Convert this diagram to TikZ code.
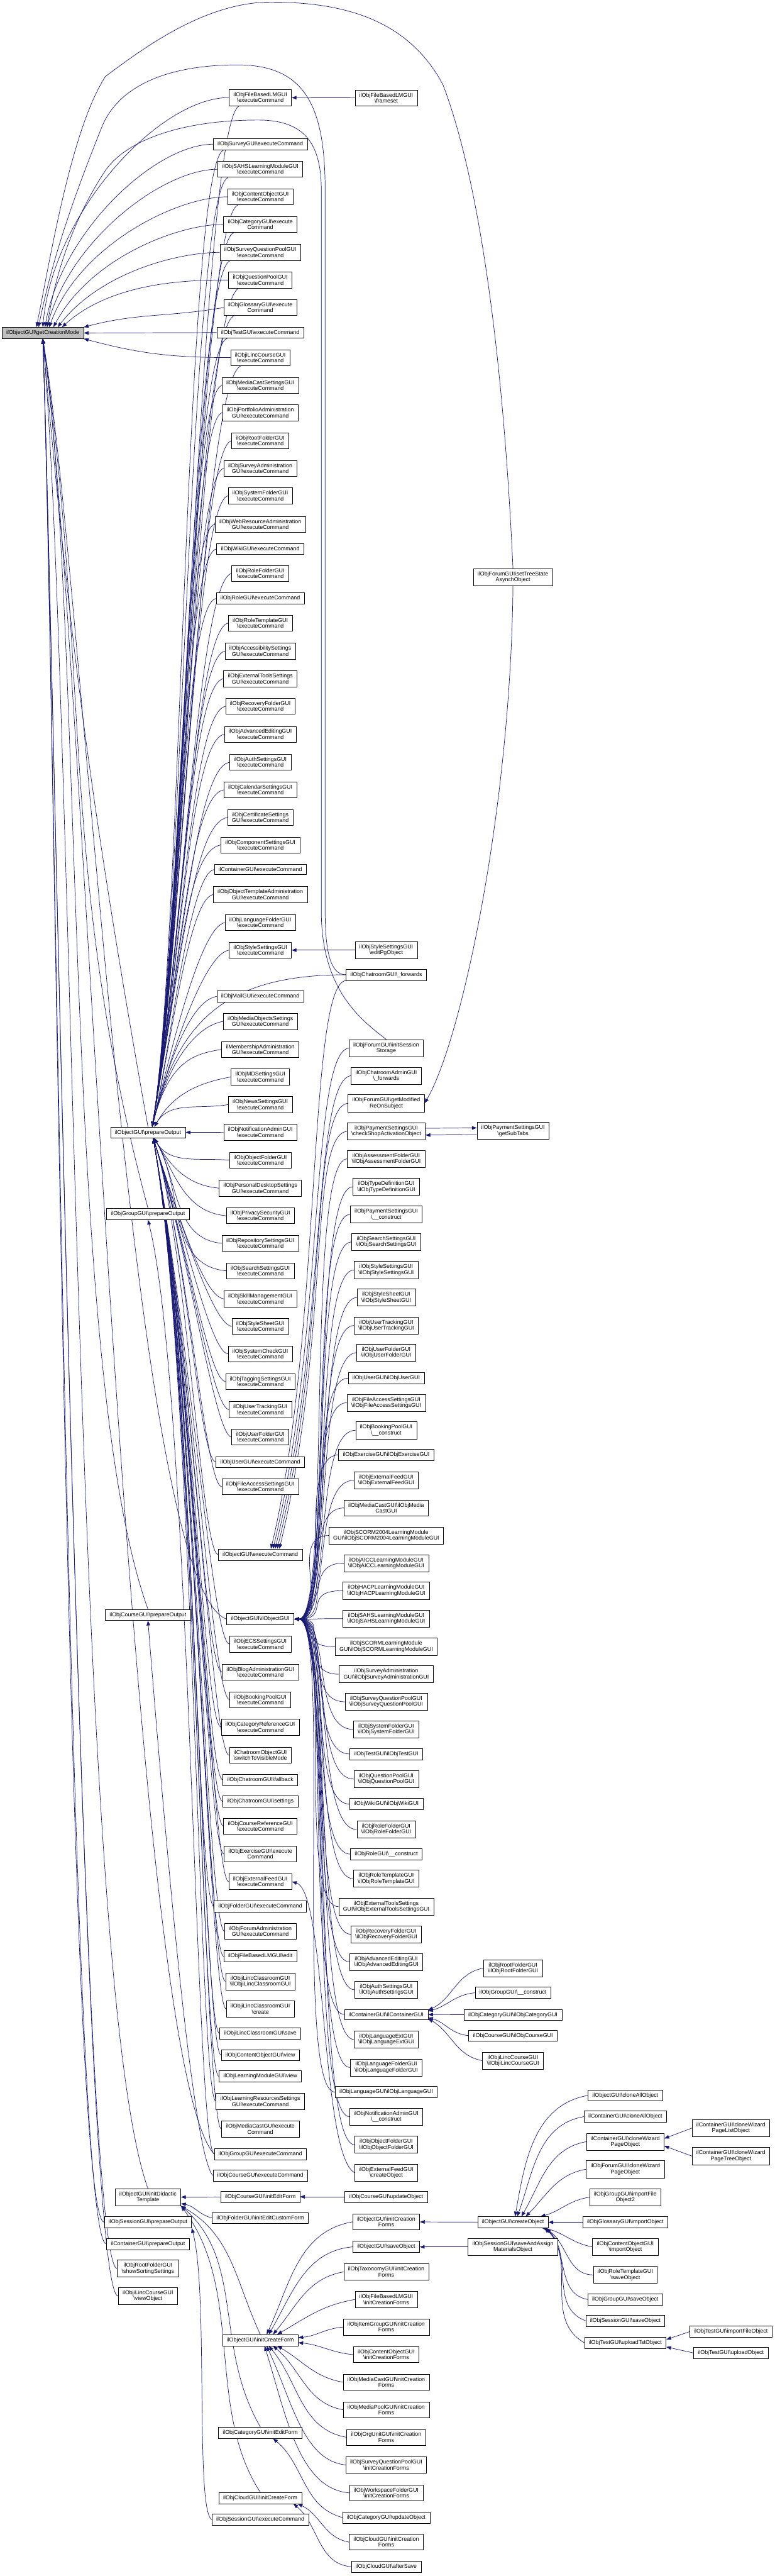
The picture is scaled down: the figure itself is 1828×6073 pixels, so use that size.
\documentclass[tikz,border=0pt]{standalone}
\usepackage{fontspec}
\setmainfont{Liberation Sans}
\usetikzlibrary{arrows.meta}
\definecolor{edgeblue}{HTML}{191970}
\pgfdeclarelayer{paper}
\pgfdeclarelayer{background}
\pgfsetlayers{paper,background,main}
\newcommand{\bs}{\textbackslash}

\begin{document}
\begin{tikzpicture}[
  x=0.02cm, y=-0.02cm,
  font=\fontsize{7.5}{7.9}\selectfont,
  fn/.style={draw=black, line width=0.5pt, fill=white, align=center, inner xsep=5.8pt, inner ysep=4pt},
  rootfn/.style={fn, fill=black!25},
  call/.style={draw=edgeblue, line width=0.6pt, -{Triangle[length=6.5pt,width=4.8pt]}}
]
\useasboundingbox (0,0) rectangle (1828,6073);
\begin{pgfonlayer}{paper}
  \fill[white] (0,0) rectangle (1828,6073);
\end{pgfonlayer}

\node[rootfn] (root) at (101,785) {ilObjectGUI\bs getCreationMode};

% direct callers of the root
\node[fn] (prepout) at (349,2670) {ilObjectGUI\bs prepareOutput};
\node[fn] (grpprep) at (349,2862) {ilObjGroupGUI\bs prepareOutput};
\node[fn] (crsprep) at (349,3807) {ilObjCourseGUI\bs prepareOutput};
\node[fn] (didactic) at (349,5180) {ilObjectGUI\bs initDidactic\\Template};
\node[fn] (sessprep) at (349,5239) {ilObjSessionGUI\bs prepareOutput};
\node[fn] (contprep) at (349,5290) {ilContainerGUI\bs prepareOutput};
\node[fn] (sortset) at (349,5348) {ilObjRootFolderGUI\\\bs showSortingSettings};
\node[fn] (lincview) at (349,5413) {ilObjiLincCourseGUI\\\bs viewObject};

% second column
\foreach \nm/\yy/\lbl in {
  fblmexec/230/{ilObjFileBasedLMGUI\\\bs executeCommand},
  surveyexec/340/{ilObjSurveyGUI\bs executeCommand},
  sahsexec/399/{ilObjSAHSLearningModuleGUI\\\bs executeCommand},
  contobjexec/464/{ilObjContentObjectGUI\\\bs executeCommand},
  catexec/529/{ilObjCategoryGUI\bs execute\\Command},
  sqpoolexec/595/{ilObjSurveyQuestionPoolGUI\\\bs executeCommand},
  qpoolexec/660/{ilObjQuestionPoolGUI\\\bs executeCommand},
  glossexec/725/{ilObjGlossaryGUI\bs execute\\Command},
  testexec/784/{ilObjTestGUI\bs executeCommand},
  lincexec/843/{ilObjiLincCourseGUI\\\bs executeCommand},
  mcastsetexec/909/{ilObjMediaCastSettingsGUI\\\bs executeCommand},
  portfexec/973/{ilObjPortfolioAdministration\\GUI\bs executeCommand},
  rootfexec/1039/{ilObjRootFolderGUI\\\bs executeCommand},
  survadmexec/1104/{ilObjSurveyAdministration\\GUI\bs executeCommand},
  sysfexec/1169/{ilObjSystemFolderGUI\\\bs executeCommand},
  webresexec/1236/{ilObjWebResourceAdministration\\GUI\bs executeCommand},
  wikiexec/1294/{ilObjWikiGUI\bs executeCommand},
  rolefexec/1352/{ilObjRoleFolderGUI\\\bs executeCommand},
  roleexec/1411/{ilObjRoleGUI\bs executeCommand},
  roletplexec/1469/{ilObjRoleTemplateGUI\\\bs executeCommand},
  accessexec/1535/{ilObjAccessibilitySettings\\GUI\bs executeCommand},
  exttoolsexec/1600/{ilObjExternalToolsSettings\\GUI\bs executeCommand},
  recovexec/1665/{ilObjRecoveryFolderGUI\\\bs executeCommand},
  adveditexec/1731/{ilObjAdvancedEditingGUI\\\bs executeCommand},
  authexec/1797/{ilObjAuthSettingsGUI\\\bs executeCommand},
  calexec/1862/{ilObjCalendarSettingsGUI\\\bs executeCommand},
  certexec/1927/{ilObjCertificateSettings\\GUI\bs executeCommand},
  compexec/1992/{ilObjComponentSettingsGUI\\\bs executeCommand},
  contexec/2050/{ilContainerGUI\bs executeCommand},
  objtplexec/2109/{ilObjObjectTemplateAdministration\\GUI\bs executeCommand},
  langfexec/2175/{ilObjLanguageFolderGUI\\\bs executeCommand},
  styleexec/2240/{ilObjStyleSettingsGUI\\\bs executeCommand},
  mailexec/2349/{ilObjMailGUI\bs executeCommand},
  mobsexec/2408/{ilObjMediaObjectsSettings\\GUI\bs executeCommand},
  membexec/2474/{ilMembershipAdministration\\GUI\bs executeCommand},
  mdexec/2539/{ilObjMDSettingsGUI\\\bs executeCommand},
  newsexec/2604/{ilObjNewsSettingsGUI\\\bs executeCommand},
  notifexec/2669/{ilObjNotificationAdminGUI\\\bs executeCommand},
  objfexec/2735/{ilObjObjectFolderGUI\\\bs executeCommand},
  pdexec/2801/{ilObjPersonalDesktopSettings\\GUI\bs executeCommand},
  privexec/2866/{ilObjPrivacySecurityGUI\\\bs executeCommand},
  repoexec/2931/{ilObjRepositorySettingsGUI\\\bs executeCommand},
  searchexec/2996/{ilObjSearchSettingsGUI\\\bs executeCommand},
  skillexec/3062/{ilObjSkillManagementGUI\\\bs executeCommand},
  sheetexec/3127/{ilObjStyleSheetGUI\\\bs executeCommand},
  syscheckexec/3192/{ilObjSystemCheckGUI\\\bs executeCommand},
  tagexec/3257/{ilObjTaggingSettingsGUI\\\bs executeCommand},
  trackexec/3323/{ilObjUserTrackingGUI\\\bs executeCommand},
  userfexec/3388/{ilObjUserFolderGUI\\\bs executeCommand},
  userexec/3447/{ilObjUserGUI\bs executeCommand},
  faccexec/3505/{ilObjFileAccessSettingsGUI\\\bs executeCommand},
  objexec/3665/{ilObjectGUI\bs executeCommand},
  objctor/3817/{ilObjectGUI\bs ilObjectGUI},
  ecsexec/3876/{ilObjECSSettingsGUI\\\bs executeCommand},
  blogexec/3942/{ilObjBlogAdministrationGUI\\\bs executeCommand},
  bookexec/4007/{ilObjBookingPoolGUI\\\bs executeCommand},
  catrefexec/4072/{ilObjCategoryReferenceGUI\\\bs executeCommand},
  chatvisible/4138/{ilChatroomObjectGUI\\\bs switchToVisibleMode},
  chatfallback/4196/{ilObjChatroomGUI\bs fallback},
  chatsettings/4247/{ilObjChatroomGUI\bs settings},
  crsrefexec/4305/{ilObjCourseReferenceGUI\\\bs executeCommand},
  exexec/4371/{ilObjExerciseGUI\bs execute\\Command},
  feedexec/4436/{ilObjExternalFeedGUI\\\bs executeCommand},
  foldexec/4494/{ilObjFolderGUI\bs executeCommand},
  forumadmexec/4553/{ilObjForumAdministration\\GUI\bs executeCommand},
  fblmedit/4612/{ilObjFileBasedLMGUI\bs edit},
  lclassctor/4671/{ilObjiLincClassroomGUI\\\bs ilObjiLincClassroomGUI},
  lclasscreate/4736/{ilObjiLincClassroomGUI\\\bs create},
  lclasssave/4794/{ilObjiLincClassroomGUI\bs save},
  contobjview/4845/{ilObjContentObjectGUI\bs view},
  lmview/4895/{ilObjLearningModuleGUI\bs view},
  lresexec/4954/{ilObjLearningResourcesSettings\\GUI\bs executeCommand},
  mcastexec/5019/{ilObjMediaCastGUI\bs execute\\Command},
  grpexec/5078/{ilObjGroupGUI\bs executeCommand},
  crsexec/5129/{ilObjCourseGUI\bs executeCommand},
  crsinitedit/5179/{ilObjCourseGUI\bs initEditForm},
  foldinitedit/5229/{ilObjFolderGUI\bs initEditCustomForm},
  initcreate/5517/{ilObjectGUI\bs initCreateForm},
  catinitedit/5735/{ilObjCategoryGUI\bs initEditForm},
  cloudinitcreate/5889/{ilObjCloudGUI\bs initCreateForm},
  sessexec/5940/{ilObjSessionGUI\bs executeCommand}}
  \node[fn] (\nm) at (614,\yy) {\lbl};

% third column
\foreach \nm/\yy/\lbl in {
  frameset/231/{ilObjFileBasedLMGUI\\\bs frameset},
  editpg/2240/{ilObjStyleSettingsGUI\\\bs editPgObject},
  chatfwd/2298/{ilObjChatroomGUI\bs\_forwards},
  forumsession/2471/{ilObjForumGUI\bs initSession\\Storage},
  chatadmfwd/2536/{ilObjChatroomAdminGUI\\\bs\_forwards},
  forummodified/2601/{ilObjForumGUI\bs getModified\\ReOnSubject},
  payshop/2667/{ilObjPaymentSettingsGUI\\\bs checkShopActivationObject},
  assctor/2732/{ilObjAssessmentFolderGUI\\\bs ilObjAssessmentFolderGUI},
  typector/2798/{ilObjTypeDefinitionGUI\\\bs ilObjTypeDefinitionGUI},
  payctor/2863/{ilObjPaymentSettingsGUI\\\bs\_\_construct},
  searchctor/2928/{ilObjSearchSettingsGUI\\\bs ilObjSearchSettingsGUI},
  stylector/2994/{ilObjStyleSettingsGUI\\\bs ilObjStyleSettingsGUI},
  sheetctor/3059/{ilObjStyleSheetGUI\\\bs ilObjStyleSheetGUI},
  trackctor/3125/{ilObjUserTrackingGUI\\\bs ilObjUserTrackingGUI},
  userfctor/3189/{ilObjUserFolderGUI\\\bs ilObjUserFolderGUI},
  userctor/3249/{ilObjUserGUI\bs ilObjUserGUI},
  faccctor/3307/{ilObjFileAccessSettingsGUI\\\bs ilObjFileAccessSettingsGUI},
  bookctor/3372/{ilObjBookingPoolGUI\\\bs\_\_construct},
  exctor/3430/{ilObjExerciseGUI\bs ilObjExerciseGUI},
  feedctor/3490/{ilObjExternalFeedGUI\\\bs ilObjExternalFeedGUI},
  mcastctor/3555/{ilObjMediaCastGUI\bs ilObjMedia\\CastGUI},
  scorm04ctor/3620/{ilObjSCORM2004LearningModule\\GUI\bs ilObjSCORM2004LearningModuleGUI},
  aiccctor/3685/{ilObjAICCLearningModuleGUI\\\bs ilObjAICCLearningModuleGUI},
  hacpctor/3750/{ilObjHACPLearningModuleGUI\\\bs ilObjHACPLearningModuleGUI},
  sahsctor/3816/{ilObjSAHSLearningModuleGUI\\\bs ilObjSAHSLearningModuleGUI},
  scormctor/3882/{ilObjSCORMLearningModule\\GUI\bs ilObjSCORMLearningModuleGUI},
  survadmctor/3947/{ilObjSurveyAdministration\\GUI\bs ilObjSurveyAdministrationGUI},
  sqpoolctor/4012/{ilObjSurveyQuestionPoolGUI\\\bs ilObjSurveyQuestionPoolGUI},
  sysfctor/4077/{ilObjSystemFolderGUI\\\bs ilObjSystemFolderGUI},
  testctor/4135/{ilObjTestGUI\bs ilObjTestGUI},
  qpoolctor/4194/{ilObjQuestionPoolGUI\\\bs ilObjQuestionPoolGUI},
  wikictor/4253/{ilObjWikiGUI\bs ilObjWikiGUI},
  rolefctor/4313/{ilObjRoleFolderGUI\\\bs ilObjRoleFolderGUI},
  rolector/4371/{ilObjRoleGUI\bs\_\_construct},
  roletplctor/4429/{ilObjRoleTemplateGUI\\\bs ilObjRoleTemplateGUI},
  exttoolsctor/4495/{ilObjExternalToolsSettings\\GUI\bs ilObjExternalToolsSettingsGUI},
  recovctor/4560/{ilObjRecoveryFolderGUI\\\bs ilObjRecoveryFolderGUI},
  adveditctor/4625/{ilObjAdvancedEditingGUI\\\bs ilObjAdvancedEditingGUI},
  authctor/4691/{ilObjAuthSettingsGUI\\\bs ilObjAuthSettingsGUI},
  contctor/4749/{ilContainerGUI\bs ilContainerGUI},
  langextctor/4808/{ilObjLanguageExtGUI\\\bs ilObjLanguageExtGUI},
  langfctor/4874/{ilObjLanguageFolderGUI\\\bs ilObjLanguageFolderGUI},
  langctor/4932/{ilObjLanguageGUI\bs ilObjLanguageGUI},
  notifctor/4990/{ilObjNotificationAdminGUI\\\bs\_\_construct},
  objfctor/5056/{ilObjObjectFolderGUI\\\bs ilObjObjectFolderGUI},
  feedcreate/5122/{ilObjExternalFeedGUI\\\bs createObject},
  crsupdate/5179/{ilObjCourseGUI\bs updateObject},
  initforms/5238/{ilObjectGUI\bs initCreation\\Forms},
  saveobj/5297/{ilObjectGUI\bs saveObject},
  taxforms/5356/{ilObjTaxonomyGUI\bs initCreation\\Forms},
  fblmforms/5421/{ilObjFileBasedLMGUI\\\bs initCreationForms},
  itemgrpforms/5486/{ilObjItemGroupGUI\bs initCreation\\Forms},
  contobjforms/5551/{ilObjContentObjectGUI\\\bs initCreationForms},
  mcastforms/5616/{ilObjMediaCastGUI\bs initCreation\\Forms},
  mpoolforms/5681/{ilObjMediaPoolGUI\bs initCreation\\Forms},
  orguforms/5746/{ilObjOrgUnitGUI\bs initCreation\\Forms},
  sqpoolforms/5811/{ilObjSurveyQuestionPoolGUI\\\bs initCreationForms},
  wspforms/5877/{ilObjWorkspaceFolderGUI\\\bs initCreationForms},
  catupdate/5935/{ilObjCategoryGUI\bs updateObject},
  cloudforms/5993/{ilObjCloudGUI\bs initCreation\\Forms},
  cloudsave/6051/{ilObjCloudGUI\bs afterSave}}
  \node[fn] (\nm) at (911,\yy) {\lbl};

% fourth column
\foreach \nm/\yy/\lbl in {
  forumtree/1361/{ilObjForumGUI\bs setTreeState\\AsynchObject},
  paysubtabs/2666/{ilObjPaymentSettingsGUI\\\bs getSubTabs},
  rootfctor/4640/{ilObjRootFolderGUI\\\bs ilObjRootFolderGUI},
  grpctor/4698/{ilObjGroupGUI\bs\_\_construct},
  catctor/4750/{ilObjCategoryGUI\bs ilObjCategoryGUI},
  crsctor/4799/{ilObjCourseGUI\bs ilObjCourseGUI},
  lcrsctor/4858/{ilObjiLincCourseGUI\\\bs ilObjiLincCourseGUI},
  createobj/5239/{ilObjectGUI\bs createObject},
  sessassign/5297/{ilObjSessionGUI\bs saveAndAssign\\MaterialsObject}}
  \node[fn] (\nm) at (1210,\yy) {\lbl};

% fifth and sixth column
\foreach \nm/\yy/\lbl in {
  objclone/4940/{ilObjectGUI\bs cloneAllObject},
  contclone/4990/{ilContainerGUI\bs cloneAllObject},
  contwizard/5049/{ilContainerGUI\bs cloneWizard\\PageObject},
  forumwizard/5114/{ilObjForumGUI\bs cloneWizard\\PageObject},
  grpimport/5180/{ilObjGroupGUI\bs importFile\\Object2},
  glossimport/5239/{ilObjGlossaryGUI\bs importObject},
  contobjimport/5297/{ilObjContentObjectGUI\\\bs importObject},
  roletplsave/5363/{ilObjRoleTemplateGUI\\\bs saveObject},
  grpsave/5421/{ilObjGroupGUI\bs saveObject},
  sesssave/5471/{ilObjSessionGUI\bs saveObject},
  tstupload/5523/{ilObjTestGUI\bs uploadTstObject}}
  \node[fn] (\nm) at (1475,\yy) {\lbl};
\foreach \nm/\yy/\lbl in {
  wizlist/5017/{ilContainerGUI\bs cloneWizard\\PageListObject},
  wiztree/5083/{ilContainerGUI\bs cloneWizard\\PageTreeObject},
  tstimport/5497/{ilObjTestGUI\bs importFileObject},
  tstuploadobj/5547/{ilObjTestGUI\bs uploadObject}}
  \node[fn] (\nm) at (1724,\yy) {\lbl};

\begin{pgfonlayer}{background}
% calls into the root
\foreach \src/\dx/\ang in {fblmexec/0/85, surveyexec/0.1/80, sahsexec/0.2/75, contobjexec/0.3/70, catexec/0.5/62, sqpoolexec/0.7/52, qpoolexec/0.9/42}
  \draw[call] (\src.west) to[out=180,in=\ang,out looseness=0.6] ([xshift=\dx cm]root.north);
\draw[call] (glossexec.west) to[out=190,in=15] (root.north east);
\draw[call] (testexec.west) -- (root.east);
\draw[call] (lincexec.west) to[out=180,in=-15] (root.south east);
\draw[call] (prepout.north) .. controls +(-130,-730) and +(65,735) .. (root.south);
\draw[call] (grpprep.north) .. controls +(-210,-785) and +(113,805) .. (root.south);
\draw[call] (crsprep.north) .. controls +(-202,-556) and +(99,703) .. (root.south);
\draw[call] (didactic.north) .. controls +(-176,-485) and +(75,857) .. (root.south);
\foreach \src in {sessprep,contprep,sortset,lincview}
  \draw[call] (\src.west) .. controls +(-87,0) and +(30,874) .. (root.south);
\draw[call] (objctor.west) .. controls +(-226,-82) and +(100,600) .. (root.south);
\draw[call] (grpexec.west) .. controls (300,4850) and (200,1500) .. (root.south);
\draw[call] (chatfwd.west) .. controls (785,2298) and (767,2260) .. (767,2150) -- (767,450)
  .. controls (767,250) and (720,153) .. (560,153) .. controls (400,153) and (280,200) .. (240,300)
  .. controls (180,450) and (125,600) .. ([xshift=-0.2cm]root.north);
\draw[call] (forumsession.north) .. controls (860,2410) and (758,2340) .. (758,2150) -- (758,450)
  .. controls (758,340) and (720,283) .. (609,283) .. controls (430,283) and (300,330) .. (250,400)
  .. controls (170,520) and (130,650) .. ([xshift=0.2cm]root.north);
\draw[call] (forumtree.north) .. controls (1190,900) and (1140,450) .. (1045,200)
  .. controls (960,40) and (800,5) .. (638,5) .. controls (480,5) and (330,120) .. (249,180)
  .. controls (170,300) and (120,600) .. ([xshift=-0.3cm]root.north);

% calls into prepareOutput
\foreach \src in {fblmexec,surveyexec,sahsexec,contobjexec,catexec,sqpoolexec,qpoolexec,glossexec,testexec,lincexec}
  \draw[call] ([xshift=0.5cm]\src.south west) .. controls +(-90,30) and +(70,-420) .. ([xshift=0.2cm]prepout.north);
\foreach \src in {mcastsetexec,portfexec,rootfexec,survadmexec,sysfexec,webresexec,wikiexec,rolefexec,roleexec,
  roletplexec,accessexec,exttoolsexec,recovexec,adveditexec,authexec,calexec,certexec,compexec}
  \draw[call] (\src.west) .. controls +(-80,15) and +(70,-400) .. ([xshift=0.2cm]prepout.north);
\foreach \src in {contexec,objtplexec,langfexec,styleexec,mailexec,mobsexec,membexec}
  \draw[call] (\src.west) .. controls +(-60,10) and +(40,-160) .. ([xshift=0.2cm]prepout.north);
\foreach \src in {mdexec,newsexec}
  \draw[call] (\src.west) to[out=190,in=60] ([xshift=0.3cm]prepout.north);
\draw[call] (notifexec) -- (prepout);
\foreach \src in {objfexec,pdexec,privexec,repoexec,searchexec}
  \draw[call] (\src.west) to[out=175,in=-60] ([xshift=0.3cm]prepout.south);
\foreach \src in {skillexec,sheetexec,syscheckexec,tagexec,trackexec,userfexec,userexec,faccexec,objexec}
  \draw[call] (\src.west) .. controls +(-40,-5) and +(80,250) .. ([xshift=0.25cm]prepout.south);
\foreach \src in {ecsexec,blogexec,bookexec,catrefexec,chatvisible,
  chatfallback,chatsettings,crsrefexec,exexec,feedexec,foldexec,forumadmexec,fblmedit,lclassctor,
  lclasscreate,lclasssave,contobjview,lmview,lresexec,mcastexec}
  \draw[call] (\src.west) .. controls +(-40,-5) and +(96,545) .. ([xshift=0.25cm]prepout.south);
\draw[call] (chatfwd.west) .. controls (540,2298) and (420,2400) .. ([xshift=0.2cm]prepout.north);
\draw[call] (grpexec.west) .. controls +(-45,-30) and +(100,400) .. (grpprep.south);
\draw[call] (crsexec.west) .. controls +(-50,-60) and +(40,500) .. (crsprep.south);
\draw[call] (crsinitedit) -- (didactic);
\draw[call] (foldinitedit.west) to[out=165,in=-10] ([yshift=-0.3cm]didactic.east);
\draw[call] (initcreate.north) to[out=115,in=-30] (didactic.south east);
\draw[call] (catinitedit.north) .. controls +(-110,-190) and +(150,130) .. (didactic.south east);
\draw[call] (cloudinitcreate.north) .. controls +(-130,-200) and +(150,200) .. (didactic.south east);
\draw[call] (sessexec.west) .. controls +(-40,-20) and +(40,150) .. (sessprep.south east);

% third column into second
\draw[call] (frameset) -- (fblmexec);
\draw[call] (editpg) -- (styleexec);
\draw[call] (crsupdate) -- (crsinitedit);
\draw[call] (feedcreate.west) .. controls (757,5080) and (770,4460) .. (feedexec.east);
\draw[call] (chatfwd.south west) .. controls +(-90,10) and +(120,-500) .. ([xshift=0.5cm]objexec.north);
\foreach \src/\dx in {forumsession/0.6, chatadmfwd/0.7, forummodified/0.8, payshop/0.9}
  \draw[call] (\src.west) .. controls +(-90,10) and +(120,-500) .. ([xshift=\dx cm]objexec.north);
\foreach \src in {assctor,typector,payctor,searchctor,stylector,sheetctor,trackctor,userfctor,userctor,
  faccctor,bookctor,exctor,feedctor,mcastctor,scorm04ctor,aiccctor,hacpctor,sahsctor,scormctor,
  survadmctor,sqpoolctor,sysfctor,testctor,qpoolctor,wikictor,rolefctor,rolector,roletplctor,
  exttoolsctor,recovctor,adveditctor,authctor,contctor,langextctor,langfctor,langctor,notifctor,objfctor}
  \draw[call] (\src.west) .. controls +(-100,0) and +(90,0) .. (objctor.east);
\draw[call] (initforms.west) to[out=190,in=65] ([xshift=0.3cm]initcreate.north);
\draw[call] (saveobj.west) to[out=185,in=60] ([xshift=0.4cm]initcreate.north);
\draw[call] (taxforms.west) to[out=190,in=50] ([xshift=0.6cm]initcreate.north);
\draw[call] (fblmforms.west) to[out=190,in=30] ([xshift=0.8cm]initcreate.north);
\draw[call] (itemgrpforms.west) to[out=185,in=5] ([yshift=0.12cm]initcreate.east);
\draw[call] (contobjforms.west) to[out=175,in=-5] ([yshift=-0.12cm]initcreate.east);
\draw[call] (mcastforms.west) to[out=170,in=-30] ([xshift=0.8cm]initcreate.south);
\draw[call] (mpoolforms.west) to[out=170,in=-40] ([xshift=0.6cm]initcreate.south);
\draw[call] (orguforms.west) to[out=170,in=-50] ([xshift=0.4cm]initcreate.south);
\draw[call] (sqpoolforms.west) .. controls +(-100,-10) and +(60,130) .. ([xshift=0.3cm]initcreate.south);
\draw[call] (wspforms.west) .. controls +(-120,-10) and +(50,160) .. ([xshift=0.2cm]initcreate.south);
\draw[call] (catupdate.west) to[out=165,in=-40] ([xshift=0.6cm]catinitedit.south);
\draw[call] (cloudforms.west) to[out=170,in=-25] ([xshift=-0.2cm]cloudinitcreate.south east);
\draw[call] (cloudsave.west) to[out=175,in=-40] ([xshift=-0.4cm]cloudinitcreate.south east);

% fourth column and beyond
\draw[call] (forumtree.south) .. controls (1205,1900) and (1090,2450) .. (forummodified.east);
\draw[call] ([yshift=0.14cm]payshop.east) -- ([yshift=0.14cm]paysubtabs.west);
\draw[call] ([yshift=-0.18cm]paysubtabs.west) -- ([yshift=-0.18cm]payshop.east);
\draw[call] (rootfctor.west) to[out=190,in=25] ([yshift=0.2cm]contctor.east);
\draw[call] (grpctor.west) to[out=185,in=15] ([yshift=0.15cm]contctor.east);
\draw[call] (catctor) -- (contctor);
\draw[call] (crsctor.west) to[out=175,in=-15] ([yshift=-0.15cm]contctor.east);
\draw[call] (lcrsctor.west) to[out=170,in=-30] ([yshift=-0.2cm]contctor.east);
\draw[call] (createobj) -- (initforms);
\draw[call] (sessassign) -- (saveobj);
\draw[call] (objclone.west) to[out=190,in=80] ([xshift=0.1cm]createobj.north);
\draw[call] (contclone.west) to[out=190,in=70] ([xshift=0.2cm]createobj.north);
\draw[call] (contwizard.west) to[out=190,in=60] ([xshift=0.4cm]createobj.north);
\draw[call] (forumwizard.west) to[out=190,in=45] ([xshift=0.6cm]createobj.north);
\draw[call] (grpimport.west) to[out=188,in=15] ([xshift=1.3cm]createobj.north);
\draw[call] (glossimport) -- (createobj);
\draw[call] (contobjimport.west) to[out=170,in=-10] ([xshift=-0.3cm]createobj.south east);
\draw[call] (roletplsave.west) to[out=180,in=-30] ([xshift=-0.2cm]createobj.south east);
\draw[call] (grpsave.west) to[out=170,in=-40] ([xshift=-0.2cm]createobj.south east);
\draw[call] (sesssave.west) to[out=160,in=-45] ([xshift=-0.1cm]createobj.south east);
\draw[call] (tstupload.west) to[out=150,in=-50] ([xshift=-0.1cm]createobj.south east);
\draw[call] (wizlist.west) -- ([yshift=0.15cm]contwizard.east);
\draw[call] (wiztree.west) -- ([yshift=-0.2cm]contwizard.east);
\draw[call] (tstimport.west) -- ([yshift=0.15cm]tstupload.east);
\draw[call] (tstuploadobj.west) -- ([yshift=-0.2cm]tstupload.east);
\end{pgfonlayer}

\end{tikzpicture}
\end{document}
